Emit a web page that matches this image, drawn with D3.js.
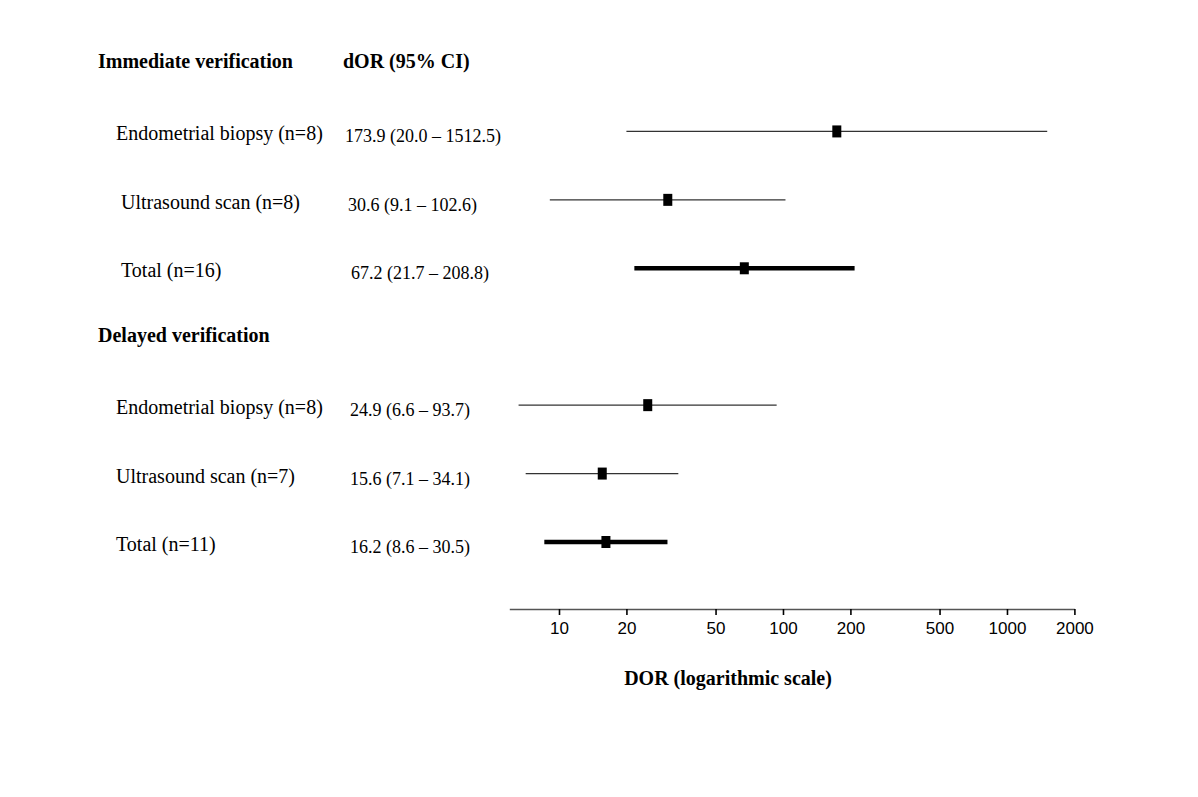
<!DOCTYPE html>
<html>
<head>
<meta charset="utf-8">
<script src="https://cdn.jsdelivr.net/npm/d3@7/dist/d3.min.js"></script>
<style>
  html, body { margin: 0; padding: 0; background: #fff; }
  svg { display: block; }
</style>
</head>
<body>
<svg id="chart" width="1198" height="797"></svg>
<script>
// ---- data ----
const groups = ["Immediate verification", "Delayed verification"];
const labels = [
  ["Endometrial biopsy (n=8)", "Ultrasound scan (n=8)", "Total (n=16)"],
  ["Endometrial biopsy (n=8)", "Ultrasound scan (n=7)", "Total (n=11)"]
];
const estimates = [[173.9, 30.6, 67.2], [24.9, 15.6, 16.2]];
const lowers    = [[20.0, 9.1, 21.7], [6.6, 7.1, 8.6]];
const uppers    = [[1512.5, 102.6, 208.8], [93.7, 34.1, 30.5]];
const isTotal   = [[false, false, true], [false, false, true]];
const tickValues = [10, 20, 50, 100, 200, 500, 1000, 2000];
const columnHeader = "dOR (95% CI)";
const axisTitle = "DOR (logarithmic scale)";

// ---- layout ----
const svg = d3.select("#chart");
const serif = "'Liberation Serif', 'Times New Roman', serif";
const sans = "'Liberation Sans', Arial, sans-serif";

const x = d3.scaleLog().domain([6, 2000]).range([509.3, 1074.4]);
const y = d3.scaleLinear().domain([0, 7]).range([62, 541]);

const rows = [];
groups.forEach((g, gi) => {
  labels[gi].forEach((lab, i) => {
    rows.push({
      slot: gi * 4 + i + 1,
      label: lab,
      est: estimates[gi][i],
      lo: lowers[gi][i],
      hi: uppers[gi][i],
      total: isTotal[gi][i],
      gi, i
    });
  });
});

// group headers
svg.selectAll("text.group").data(groups).join("text")
  .attr("class", "group")
  .attr("x", 98)
  .attr("y", (d, gi) => y(gi * 4) + 6)
  .attr("font-family", serif)
  .attr("font-weight", "bold")
  .attr("font-size", 20)
  .text(d => d);

svg.append("text")
  .attr("x", 343).attr("y", y(0) + 6)
  .attr("font-family", serif).attr("font-weight", "bold").attr("font-size", 20)
  .text(columnHeader);

// label x offsets (slight indentation differences as in the reference)
const labelX = [[116, 121, 121], [116, 116, 116]];
const valueX = [[345, 348, 351], [350, 350, 350]];

svg.selectAll("text.label").data(rows).join("text")
  .attr("class", "label")
  .attr("x", d => labelX[d.gi][d.i])
  .attr("y", d => y(d.slot) + 10)
  .attr("font-family", serif).attr("font-size", 20)
  .text(d => d.label);

const fmt = d3.format(".1f");
svg.selectAll("text.value").data(rows).join("text")
  .attr("class", "value")
  .attr("x", d => valueX[d.gi][d.i])
  .attr("y", d => y(d.slot) + 12)
  .attr("font-family", serif).attr("font-size", 18)
  .text(d => `${fmt(d.est)} (${fmt(d.lo)} \u2013 ${fmt(d.hi)})`);

// CI lines
svg.selectAll("line.ci").data(rows).join("line")
  .attr("class", "ci")
  .attr("x1", d => x(d.lo)).attr("x2", d => x(d.hi))
  .attr("y1", d => y(d.slot) + 1).attr("y2", d => y(d.slot) + 1)
  .attr("stroke", d => d.total ? "#000" : "#333")
  .attr("stroke-width", d => d.total ? 4.5 : 1.3);

// point markers
svg.selectAll("rect.pt").data(rows).join("rect")
  .attr("class", "pt")
  .attr("x", d => x(d.est) - 4.5)
  .attr("y", d => y(d.slot) - 5)
  .attr("width", 9).attr("height", 12)
  .attr("fill", "#000");

// axis
const axisY = 609;
const axis = d3.axisBottom(x)
  .tickValues(tickValues)
  .tickFormat(d3.format("d"))
  .tickSize(6)
  .tickSizeOuter(0)
  .tickPadding(7);

const ag = svg.append("g").attr("transform", `translate(0,${axisY})`).call(axis);
ag.select(".domain").attr("stroke", "#555").attr("stroke-width", 1.6);
ag.selectAll(".tick line").attr("stroke", "#000").attr("stroke-width", 1.6);
ag.selectAll(".tick text")
  .attr("font-family", sans).attr("font-size", 17).attr("fill", "#000");

svg.append("text")
  .attr("x", 728).attr("y", 685)
  .attr("text-anchor", "middle")
  .attr("font-family", serif).attr("font-weight", "bold").attr("font-size", 20)
  .text(axisTitle);
</script>
</body>
</html>
